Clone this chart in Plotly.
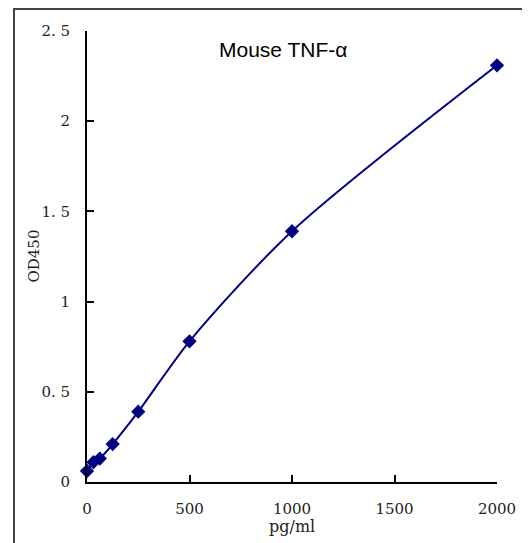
import plotly.graph_objects as go

conc = [0, 31.25, 62.5, 125, 250, 500, 1000, 2000]
od = [0.061, 0.11, 0.13, 0.21, 0.39, 0.78, 1.39, 2.31]

x_ticks = [0, 500, 1000, 1500, 2000]
x_ticktext = ["0", "500", "1000", "1500", "2000"]
y_ticks = [0, 0.5, 1, 1.5, 2, 2.5]
y_ticktext = ["0", "0. 5", "1", "1. 5", "2", "2. 5"]

navy = "#000080"
serif = "DejaVu Serif"

fig = go.Figure()
fig.add_trace(go.Scatter(
    x=conc, y=od, mode="lines+markers",
    line=dict(color=navy, width=2, shape="spline", smoothing=0.8),
    marker=dict(symbol="diamond", size=11, color=navy),
    cliponaxis=False, showlegend=False,
))

fig.update_layout(
    width=522, height=535,
    margin=dict(l=79, r=33, t=23, b=61, autoexpand=False),
    paper_bgcolor="white", plot_bgcolor="white",
    xaxis=dict(range=[0, 2000], tickvals=x_ticks, ticktext=x_ticktext,
               ticks="inside", ticklen=7, tickwidth=1.5, tickcolor="black",
               showline=True, linecolor="black", linewidth=2,
               showgrid=False, zeroline=False, ticklabelstandoff=12,
               automargin=False,
               tickfont=dict(family=serif, size=15, color="#222222")),
    yaxis=dict(range=[0, 2.5], tickvals=y_ticks, ticktext=y_ticktext,
               ticks="inside", ticklen=7, tickwidth=1.5, tickcolor="black",
               showline=True, linecolor="black", linewidth=2,
               showgrid=False, zeroline=False, ticklabelstandoff=12,
               automargin=False,
               tickfont=dict(family=serif, size=15, color="#222222")),
)

fig.add_annotation(text="Mouse TNF-α", xref="paper", yref="paper",
                   x=0.478, y=(482 - 50) / 451, showarrow=False,
                   xanchor="center", yanchor="middle",
                   font=dict(family="Liberation Sans", size=21, color="black"))
fig.add_annotation(text="pg/ml", xref="paper", yref="paper",
                   x=0.5, y=(482 - 526) / 451, showarrow=False,
                   xanchor="center", yanchor="middle",
                   font=dict(family=serif, size=16, color="#222222"))
fig.add_annotation(text="OD450", xref="paper", yref="paper",
                   x=(33 - 87) / 410, y=0.5, showarrow=False, textangle=-90,
                   xanchor="center", yanchor="middle",
                   font=dict(family=serif, size=15, color="#222222"))

fig.add_shape(type="rect", xref="paper", yref="paper",
              x0=(14 - 87) / 410, x1=(526 - 87) / 410,
              y0=-0.2, y1=(482 - 9) / 451,
              line=dict(color="#444444", width=2), fillcolor="rgba(0,0,0,0)",
              layer="below")

fig.write_html("out.html")
